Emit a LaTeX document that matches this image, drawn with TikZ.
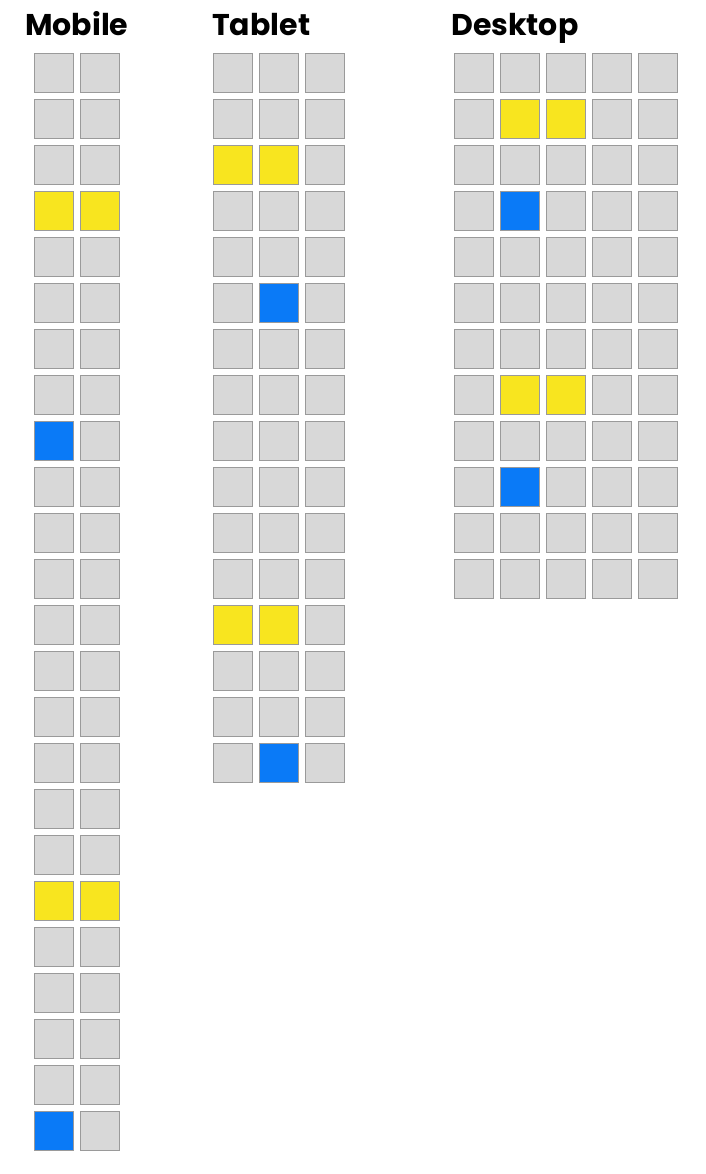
\documentclass[tikz,border=0pt]{standalone}
\usepackage{fontspec}
\setmainfont{Poppins}
\definecolor{cellgray}{HTML}{D8D8D8}
\definecolor{cellborder}{HTML}{9A9A9A}
\definecolor{hlyellow}{HTML}{F8E51F}
\definecolor{hlblue}{HTML}{0A7AF7}
\tikzset{
  cell/.style={draw=cellborder, fill=cellgray, line width=1pt, minimum size=39pt, inner sep=0pt, outer sep=0pt},
  yel/.style={fill=hlyellow},
  blu/.style={fill=hlblue},
  title/.style={anchor=base west, inner sep=0pt, font=\fontsize{30}{33}\selectfont\bfseries},
  % Mobile highlights
  m-4-1/.style={yel}, m-4-2/.style={yel}, m-19-1/.style={yel}, m-19-2/.style={yel},
  m-9-1/.style={blu}, m-24-1/.style={blu},
  % Tablet highlights
  t-3-1/.style={yel}, t-3-2/.style={yel}, t-13-1/.style={yel}, t-13-2/.style={yel},
  t-6-2/.style={blu}, t-16-2/.style={blu},
  % Desktop highlights
  d-2-2/.style={yel}, d-2-3/.style={yel}, d-8-2/.style={yel}, d-8-3/.style={yel},
  d-4-2/.style={blu}, d-10-2/.style={blu},
}
\begin{document}
\begin{tikzpicture}[x=1pt,y=-1pt]
\useasboundingbox[fill=white] (0,0) rectangle (705,1174);
\node[title] (tm) at (25,36) {Mobile};
\node[title] (tt) at (212,36) {Tablet};
\node[title] (td) at (451,36) {Desktop};
\foreach \r in {1,...,24}{
  \foreach \c in {1,2}{
    \node[cell, m-\r-\c/.try] (m-\r-\c) at ({34+20+46*(\c-1)},{53+20+46*(\r-1)}) {};
  }
}
\foreach \r in {1,...,16}{
  \foreach \c in {1,2,3}{
    \node[cell, t-\r-\c/.try] (t-\r-\c) at ({213+20+46*(\c-1)},{53+20+46*(\r-1)}) {};
  }
}
\foreach \r in {1,...,12}{
  \foreach \c in {1,...,5}{
    \node[cell, d-\r-\c/.try] (d-\r-\c) at ({454+20+46*(\c-1)},{53+20+46*(\r-1)}) {};
  }
}
\end{tikzpicture}
\end{document}
